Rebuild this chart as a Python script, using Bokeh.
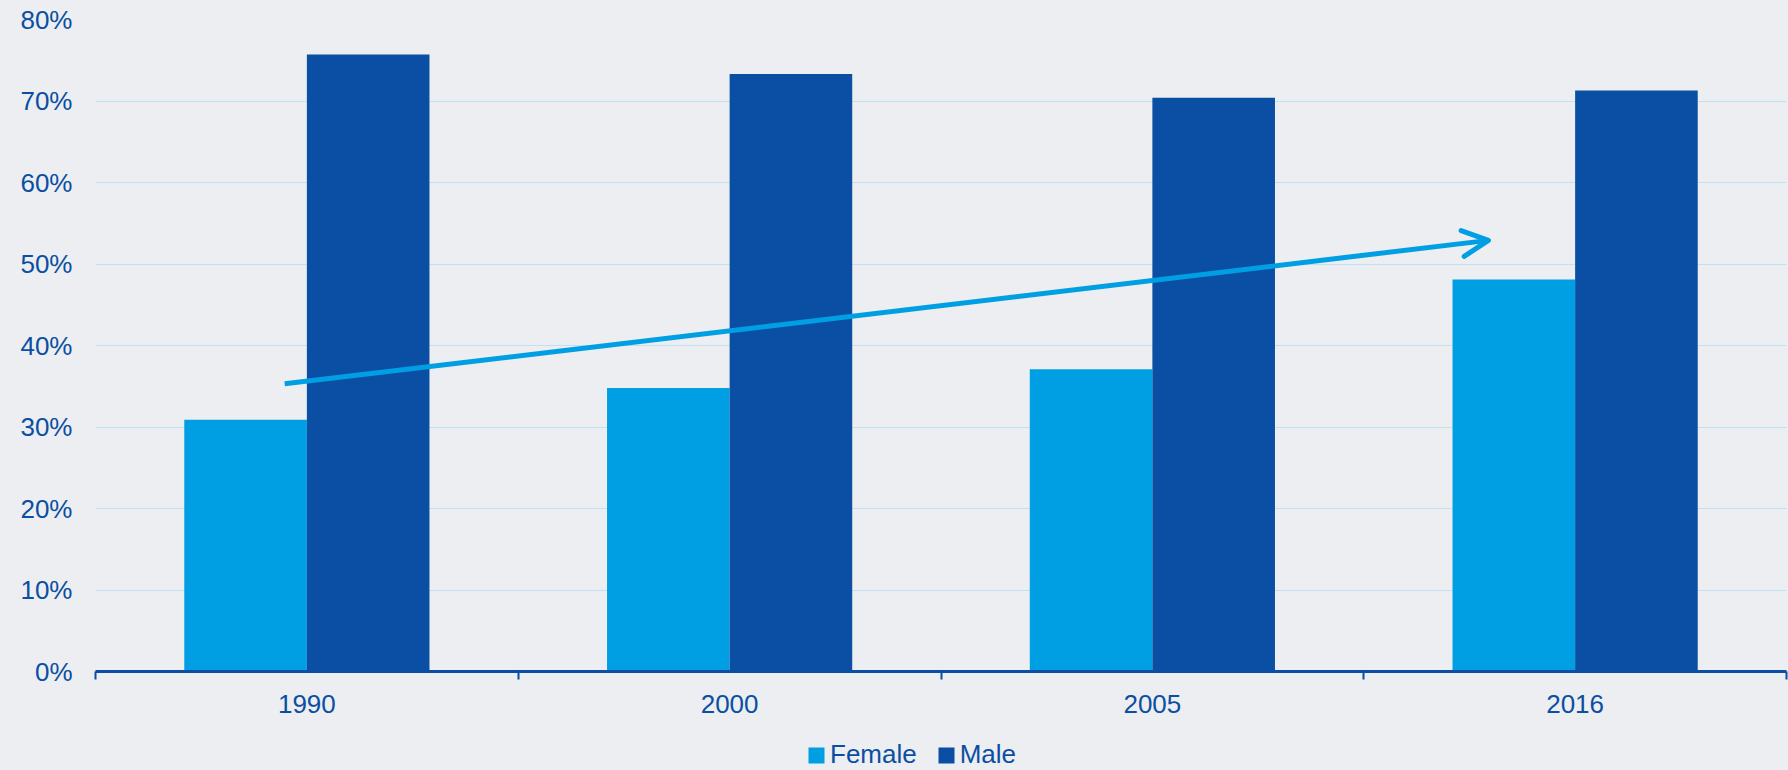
from bokeh.plotting import figure
from bokeh.layouts import column
from bokeh.models import (Range1d, FixedTicker, PrintfTickFormatter, ColumnDataSource,
                          Arrow, OpenHead, Legend, LegendItem)
from bokeh.transform import dodge
from bokeh.embed import file_html
from bokeh.resources import INLINE

years = ["1990", "2000", "2005", "2016"]
female = [30.9, 34.8, 37.1, 48.1]
male = [75.7, 73.3, 70.4, 71.3]
y_ticks = [0, 10, 20, 30, 40, 50, 60, 70, 80]
series_names = ["Female", "Male"]

BG = "#eceef1"
FEMALE_C = "#009fe3"
MALE_C = "#0a4fa3"
TEXT_C = "#0b4ea2"
FONT = "Liberation Sans"

centers = [i + 0.5 for i in range(len(years))]
src = ColumnDataSource(dict(x=centers, female=female, male=male))

p = figure(width=1788, height=725, output_backend="svg", toolbar_location=None,
           x_range=Range1d(0, len(years)), y_range=Range1d(0, 80),
           min_border_left=95, min_border_right=2, min_border_top=19, min_border_bottom=54)
p.background_fill_color = BG
p.border_fill_color = BG
p.outline_line_color = None

r_f = p.vbar(x=dodge("x", -0.145, range=p.x_range), top="female", width=0.29, source=src,
             fill_color=FEMALE_C, line_color=None)
r_m = p.vbar(x=dodge("x", 0.145, range=p.x_range), top="male", width=0.29, source=src,
             fill_color=MALE_C, line_color=None)

# trend arrow
p.add_layout(Arrow(x_start=0.4475, y_start=35.3, x_end=3.295, y_end=52.9,
                   line_color=FEMALE_C, line_width=5,
                   end=OpenHead(size=26, line_color=FEMALE_C, line_width=5, line_cap="round",
                                line_join="round")))

# x axis
xa = p.xaxis[0]
xa.ticker = FixedTicker(ticks=centers, minor_ticks=list(range(len(years) + 1)))
xa.major_label_overrides = {c: y for c, y in zip(centers, years)}
xa.major_tick_out = 0
xa.major_tick_in = 0
xa.minor_tick_out = 8
xa.minor_tick_in = 0
xa.minor_tick_line_color = MALE_C
xa.minor_tick_line_width = 2
xa.axis_line_color = MALE_C
xa.axis_line_width = 3
xa.major_label_text_font = FONT
xa.major_label_text_font_size = "26px"
xa.major_label_text_color = TEXT_C
xa.major_label_standoff = 15

# y axis
ya = p.yaxis[0]
ya.ticker = FixedTicker(ticks=y_ticks)
ya.formatter = PrintfTickFormatter(format="%d%%")
ya.axis_line_color = None
ya.major_tick_line_color = None
ya.minor_tick_line_color = None
ya.major_label_text_font = FONT
ya.major_label_text_font_size = "26px"
ya.major_label_text_color = TEXT_C
ya.major_label_standoff = 17

p.xgrid.grid_line_color = None
p.ygrid.grid_line_color = "#bfe1f5"
p.ygrid.grid_line_width = 1.2
p.ygrid.ticker = FixedTicker(ticks=y_ticks)

# legend strip below the chart (its frame is aligned with the chart's frame)
lg = figure(width=1788, height=45, output_backend="svg", toolbar_location=None,
            x_range=Range1d(0, 1), y_range=Range1d(0, 1),
            x_axis_type=None, y_axis_type=None, min_border=0)
lg.background_fill_color = BG
lg.border_fill_color = BG
lg.outline_line_color = None
lg.grid.visible = False
d_f = lg.vbar(x="x", top="female", width=0.1, source=src, fill_color=FEMALE_C, line_color=None,
              visible=False)
d_m = lg.vbar(x="x", top="male", width=0.1, source=src, fill_color=MALE_C, line_color=None,
              visible=False)
legend = Legend(items=[LegendItem(label=series_names[0], renderers=[d_f]),
                       LegendItem(label=series_names[1], renderers=[d_m])],
                orientation="horizontal", location=(711, 0),
                label_text_font=FONT, label_text_font_size="26px", label_text_color=TEXT_C,
                glyph_width=20, glyph_height=20, label_standoff=4, spacing=19,
                padding=0, margin=0, background_fill_alpha=0, border_line_color=None)
lg.add_layout(legend)

layout = column(p, lg, spacing=0)
html = file_html(layout, INLINE)
html = html.replace("<head>", "<head><style>body{background:%s;}</style>" % BG, 1)
open("out.html", "w").write(html)
